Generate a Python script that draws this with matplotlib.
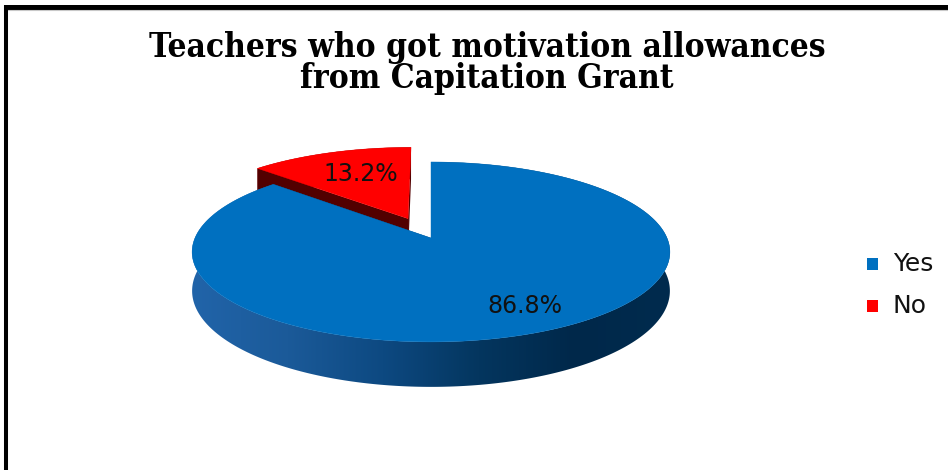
import numpy as np
import matplotlib
matplotlib.use("Agg")
import matplotlib.pyplot as plt
from matplotlib.patches import Polygon, Rectangle
from matplotlib.colors import LinearSegmentedColormap

# ---- data -------------------------------------------------------------
title = "Teachers who got motivation allowances\nfrom Capitation Grant"
categories = ["Yes", "No"]
shares = [86.8, 13.2]                       # percent of teachers
top_colors = ["#0070C0", "#FF0000"]
wall_colors = [["#2164A9", "#1B5A99", "#0D4981", "#04365F", "#00284A", "#012B4E"],
               ["#6E0000", "#520000"]]
explode = [0.0, 0.25]

# ---- canvas (axes in pixel units) -----------------------------------------
W, H = 948, 470
fig = plt.figure(figsize=(W / 100, H / 100), dpi=100)
ax = fig.add_axes([0, 0, 1, 1])
ax.set_xlim(0, W)
ax.set_ylim(H, 0)
ax.axis("off")

# chart frame
ax.plot([5, W], [6.5, 6.5], color="black", lw=3.6, solid_capstyle="butt")
ax.plot([5, W], [10, 10], color="#c8c8c8", lw=0.8)
ax.plot([6.5, 6.5], [4.5, H], color="black", lw=2.9, solid_capstyle="butt")

for line, base_y in zip(title.split("\n"), (57, 88)):
    ax.text(487, base_y, line, ha="center", va="baseline", fontsize=24,
            fontweight="bold", family="DejaVu Serif", fontstretch="condensed")

# ---- 3D pie geometry ------------------------------------------------------
CX, CY = 431, 238      # projected centre of the top face
RX, RY = 236, 87.8     # radii of the disc
K = 0.155              # perspective strength
DEPTH = 38             # thickness of the disc


def proj(X, Z, h=0.0):
    s = 1.0 / (1.0 + K * Z)
    return CX + RX * X * s, CY - RY * Z * s + DEPTH * h * s


def rim(ox, oz, t, h=0.0):
    return proj(ox + np.cos(t), oz + np.sin(t), h)


def gradient_fill(poly_xy, colors, zorder):
    poly = Polygon(poly_xy, closed=True, facecolor="none", edgecolor="none")
    ax.add_patch(poly)
    cmap = LinearSegmentedColormap.from_list("wall", colors)
    x0, x1 = poly_xy[:, 0].min(), poly_xy[:, 0].max()
    y0, y1 = poly_xy[:, 1].min(), poly_xy[:, 1].max()
    grad = np.linspace(0, 1, 256).reshape(1, -1)
    im = ax.imshow(grad, cmap=cmap, extent=[x0, x1, y1, y0], aspect="auto",
                   interpolation="bilinear", zorder=zorder)
    im.set_clip_path(poly)


fracs = np.array(shares) / np.sum(shares)
starts = np.radians(90 - 360 * np.concatenate([[0], np.cumsum(fracs)[:-1]]))
ends = np.radians(90 - 360 * np.cumsum(fracs))

# draw back slices first
order = sorted(range(len(shares)), key=lambda i: -np.sin((starts[i] + ends[i]) / 2))
label_pos = {}
for z, i in enumerate(order):
    a0, a1 = starts[i], ends[i]
    mid = (a0 + a1) / 2
    ox, oz = explode[i] * np.cos(mid), explode[i] * np.sin(mid)
    base = 2 + 3 * z
    ts = np.linspace(a0, a1, 400)

    # outer wall
    top = np.array([rim(ox, oz, t) for t in ts])
    bot = np.array([rim(ox, oz, t, 1.0) for t in ts[::-1]])
    gradient_fill(np.vstack([top, bot]), wall_colors[i], base)

    # cut faces
    for t in (a0, a1):
        face = np.array([proj(ox, oz), rim(ox, oz, t), rim(ox, oz, t, 1.0), proj(ox, oz, 1.0)])
        ax.add_patch(Polygon(face, closed=True, facecolor=wall_colors[i][-1],
                             edgecolor="none", zorder=base + 1))

    # top face
    face = np.vstack([[proj(ox, oz)], top])
    ax.add_patch(Polygon(face, closed=True, facecolor=top_colors[i],
                         edgecolor=top_colors[i], lw=0.3, zorder=base + 2))

    label_pos[i] = proj(ox + 0.74 * np.cos(mid), oz + 0.74 * np.sin(mid))

label_nudge = [(15, 2), (12, 6)]
for i, v in enumerate(shares):
    x, y = label_pos[i]
    ax.text(x + label_nudge[i][0], y + label_nudge[i][1], f"{v:.1f}%",
            ha="center", va="center", fontsize=17, color="#111111", zorder=20)

# ---- legend ---------------------------------------------------------------
for k, (name, col) in enumerate(zip(categories, top_colors)):
    y = 264 + 42 * k
    ax.add_patch(Rectangle((867, y - 6), 11.5, 12, facecolor=col, edgecolor="none"))
    ax.text(893, y, name, ha="left", va="center", fontsize=18, color="#111111")

fig.savefig("out.png", dpi=100)
